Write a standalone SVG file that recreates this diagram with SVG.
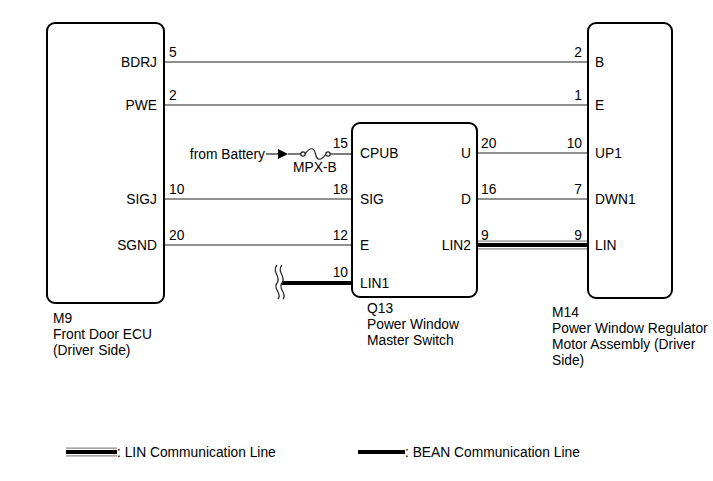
<svg xmlns="http://www.w3.org/2000/svg" width="713" height="481" viewBox="0 0 713 481">
<style>
text{font-family:"Liberation Sans",Arial,sans-serif;font-size:13.8px;fill:#000}
.e{text-anchor:end}
.box{fill:#fff;stroke:#000;stroke-width:2}
.w{stroke:#222;stroke-width:1.2;fill:none}
.bean{stroke:#000;stroke-width:4;fill:none}
.lo{stroke:#888;stroke-width:9;fill:none}
.lw{stroke:#fff;stroke-width:6.5;fill:none}
.li{stroke:#000;stroke-width:4;fill:none}
</style>
<rect width="713" height="481" fill="#fff"/>
<g id="connectors">
<line class="w" x1="164" y1="62" x2="588" y2="62"/>
<line class="w" x1="164" y1="105" x2="588" y2="105"/>
<line class="w" x1="164" y1="199" x2="352" y2="199"/>
<line class="w" x1="164" y1="245" x2="352" y2="245"/>
<line class="w" x1="477" y1="153" x2="588" y2="153"/>
<line class="w" x1="477" y1="199" x2="588" y2="199"/>
<line class="lo" x1="477" y1="245" x2="588" y2="245"/>
<line class="lw" x1="477" y1="245" x2="588" y2="245"/>
<line class="li" x1="477" y1="245" x2="588" y2="245"/>
<line class="bean" x1="282" y1="283" x2="352" y2="283"/>
<path class="w" stroke-width="1.5" d="M277 265 C271 272 282 277 277 283 C272 289 283 293 278 299"/>
<path class="w" stroke-width="1.5" d="M282 265 C276 272 287 277 282 283 C277 289 288 293 283 299"/>
<line class="w" x1="266" y1="154" x2="280" y2="154"/>
<polygon points="278,149 288,154 278,159" fill="#000"/>
<line class="w" x1="288" y1="154" x2="301" y2="154"/>
<circle class="w" cx="303" cy="154" r="2.2" fill="#fff"/>
<path class="w" d="M305 154 C310 147 314 147 315.5 154 C317 161 321 161 326 154"/>
<circle class="w" cx="328" cy="154" r="2.2" fill="#fff"/>
<line class="w" x1="330" y1="154" x2="352" y2="154"/>
</g>
<g id="M9">
<rect class="box" x="47" y="23" width="117" height="280" rx="8"/>
<text class="e" x="157" y="67">BDRJ</text>
<text class="e" x="157" y="110">PWE</text>
<text class="e" x="157" y="204">SIGJ</text>
<text class="e" x="157" y="250">SGND</text>
<text x="169" y="57">5</text>
<text x="169" y="100">2</text>
<text x="169" y="194">10</text>
<text x="169" y="240">20</text>
<text x="53" y="323">M9</text>
<text x="53" y="339">Front Door ECU</text>
<text x="53" y="355">(Driver Side)</text>
</g>
<g id="Q13">
<rect class="box" x="352" y="123" width="125" height="174" rx="8"/>
<text x="360" y="158">CPUB</text>
<text x="360" y="204">SIG</text>
<text x="360" y="250">E</text>
<text x="360" y="288">LIN1</text>
<text class="e" x="471" y="158">U</text>
<text class="e" x="471" y="204">D</text>
<text class="e" x="471" y="250">LIN2</text>
<text class="e" x="348" y="148">15</text>
<text class="e" x="348" y="194">18</text>
<text class="e" x="348" y="240">12</text>
<text class="e" x="348" y="277">10</text>
<text x="481" y="148">20</text>
<text x="481" y="194">16</text>
<text x="481" y="240">9</text>
<text class="e" x="265" y="159">from Battery</text>
<text x="293" y="172">MPX-B</text>
<text x="367" y="313">Q13</text>
<text x="367" y="329">Power Window</text>
<text x="367" y="345">Master Switch</text>
</g>
<g id="M14">
<rect class="box" x="588" y="23" width="84" height="275" rx="8"/>
<text x="595" y="67">B</text>
<text x="595" y="110">E</text>
<text x="595" y="158">UP1</text>
<text x="595" y="204">DWN1</text>
<text x="595" y="250">LIN</text>
<text class="e" x="582" y="57">2</text>
<text class="e" x="582" y="100">1</text>
<text class="e" x="582" y="148">10</text>
<text class="e" x="582" y="194">7</text>
<text class="e" x="582" y="240">9</text>
<text x="552" y="317">M14</text>
<text x="552" y="333">Power Window Regulator</text>
<text x="552" y="349">Motor Assembly (Driver</text>
<text x="552" y="365">Side)</text>
</g>
<g id="legend">
<line class="lo" x1="66" y1="452" x2="117" y2="452"/>
<line class="lw" x1="66" y1="452" x2="117" y2="452"/>
<line class="li" x1="66" y1="452" x2="117" y2="452"/>
<text x="117" y="457">: LIN Communication Line</text>
<line class="bean" x1="358" y1="452" x2="405" y2="452"/>
<text x="405" y="457">: BEAN Communication Line</text>
</g>
</svg>
